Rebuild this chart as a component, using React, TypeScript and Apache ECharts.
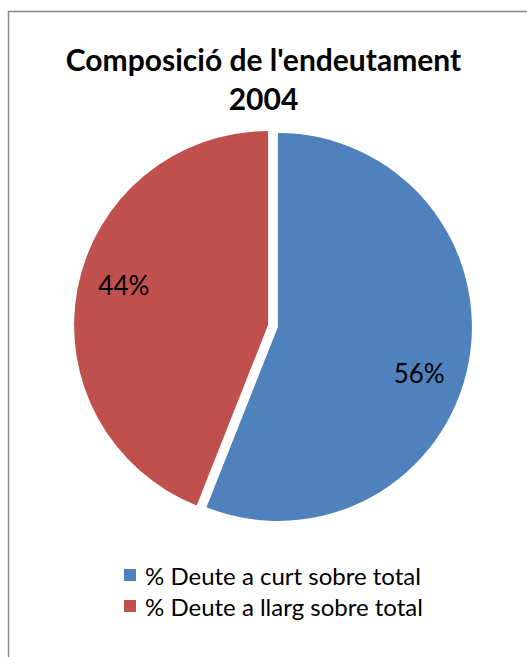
import React, { useEffect, useRef } from "react";
import * as echarts from "echarts";

const categories = ["% Deute a curt sobre total", "% Deute a llarg sobre total"];
const values = [56, 44];
const colors = ["#4F81BD", "#C0504D"];
// horizontal padding and blank lines nudge the inside labels like the original
const labelPaddings = [[0, 0, 0, 86], [0, 92, 0, 0]];
const labelPrefix = ["\n\n", ""];
const labelSuffix = ["", "\n"];
const labelLineHeights = [27, 42];

export default function App() {
  const ref = useRef<HTMLDivElement>(null);
  useEffect(() => {
    const chart = echarts.init(ref.current!, null, { renderer: "svg" });
    chart.setOption({
      animation: false,
      backgroundColor: "#fff",
      title: {
        text: "Composició de l'endeutament\n2004",
        left: "center",
        top: 34,
        textStyle: {
          fontFamily: "Lato",
          fontWeight: "bold",
          fontSize: 30,
          lineHeight: 39,
          color: "#000",
        },
      },
      graphic: [
        {
          type: "rect",
          shape: { x: 8.5, y: 11.5, width: 700, height: 800 },
          style: { fill: "none", stroke: "#888", lineWidth: 1.5 },
          silent: true,
        },
      ],
      legend: {
        orient: "vertical",
        left: 119,
        top: 558,
        itemWidth: 12,
        itemHeight: 12,
        itemGap: 7,
        icon: "rect",
        selectedMode: false,
        textStyle: {
          fontFamily: "Lato",
          fontSize: 24,
          lineHeight: 24,
          color: "#000",
          padding: [0, 0, 0, 4],
        },
        data: categories,
      },
      series: [
        {
          type: "pie",
          center: [273, 326],
          radius: 194,
          startAngle: 90,
          clockwise: true,
          selectedMode: "multiple",
          selectedOffset: 5,
          emphasis: { disabled: true },
          labelLine: { show: false },
          data: categories.map((name, i) => ({
            name,
            value: values[i],
            selected: true,
            itemStyle: { color: colors[i] },
            label: {
              show: true,
              position: "inside",
              formatter: (p: any) =>
                labelPrefix[i] + Math.round(p.percent) + "%" + labelSuffix[i],
              padding: labelPaddings[i],
              lineHeight: labelLineHeights[i],
              fontFamily: "Lato",
              fontSize: 26,
              color: "#000",
            },
          })),
        },
      ],
    });
    return () => chart.dispose();
  }, []);
  return (
    <div
      ref={ref}
      style={{ position: "absolute", left: 0, top: 0, width: 527, height: 657 }}
    />
  );
}
